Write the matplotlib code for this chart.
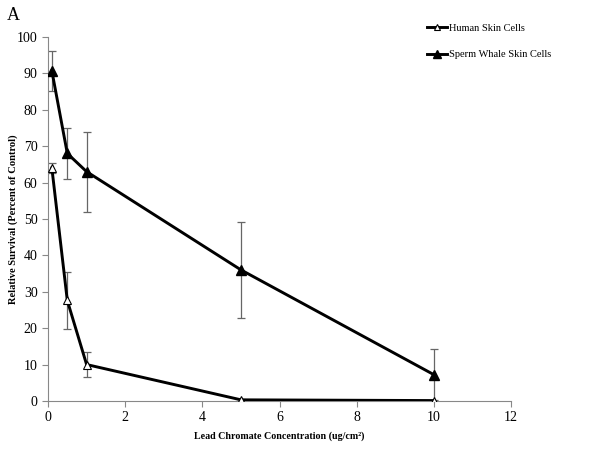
import matplotlib
matplotlib.use('Agg')
import matplotlib.pyplot as plt

conc = [0.1, 0.5, 1, 5, 10]
human = [64, 27.6, 10, 0.3, 0.1]
human_err = [1.5, 7.8, 3.4, 0.2, 0.1]
whale = [90.7, 68, 63, 36, 7.2]
whale_err = [5.5, 7, 11, 13.3, 7.2]

plt.rcParams['font.family'] = 'serif'
plt.rcParams['font.serif'] = ['Liberation Serif', 'DejaVu Serif']

fig = plt.figure(figsize=(6, 4.51), dpi=100)
ax = fig.add_axes([0.08, 0.111, 0.772, 0.807])

ax.errorbar(conc, human, yerr=human_err, fmt='none', ecolor='#666666',
            elinewidth=0.9, capsize=3, capthick=0.9, zorder=2)
ax.errorbar(conc, whale, yerr=whale_err, fmt='none', ecolor='#666666',
            elinewidth=0.9, capsize=3, capthick=0.9, zorder=2)
ax.plot(conc, human, color='black', lw=2.1, marker='^', markersize=6,
        markerfacecolor='white', markeredgecolor='black', markeredgewidth=0.8,
        label='Human Skin Cells', zorder=3)
ax.plot(conc, whale, color='black', lw=2.1, marker='^', markersize=6.5,
        markerfacecolor='black', label='Sperm Whale Skin Cells', zorder=3)

ax.set_xlim(0, 12)
ax.set_ylim(0, 100)
ax.set_xticks(range(0, 13, 2))
ax.set_yticks(range(0, 101, 10))
for s in ['top', 'right']:
    ax.spines[s].set_visible(False)
for s in ['left', 'bottom']:
    ax.spines[s].set_color('#888888')
ax.tick_params(colors='#888888', labelcolor='black', labelsize=10,
               direction='out', length=4)

ax.set_xlabel('Lead Chromate Concentration (ug/cm²)', fontsize=7.2,
              fontweight='bold')
ax.set_ylabel('Relative Survival (Percent of Control)', fontsize=7.6,
              fontweight='bold')
ax.yaxis.set_label_coords(-0.065, 0.5)
ax.xaxis.set_label_coords(0.5, -0.085)

ax.legend(loc='upper left', bbox_to_anchor=(0.712, 0.948),
          bbox_transform=fig.transFigure, frameon=False, fontsize=7.5,
          handlelength=1.9, labelspacing=1.65, handletextpad=0.2,
          borderpad=0, borderaxespad=0, markerscale=0.8)

fig.text(0.012, 0.955, 'A', fontsize=13)

fig.savefig('out.png', dpi=100)
